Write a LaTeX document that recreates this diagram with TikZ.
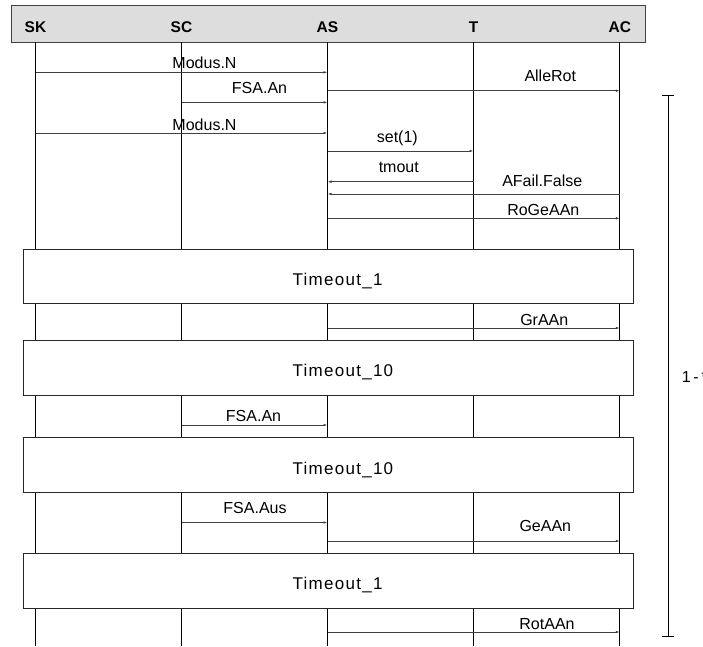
\documentclass[tikz,border=0pt]{standalone}
\usepackage{fontspec}
\setmainfont{Liberation Sans}
\newfontfamily\boxfont[LetterSpace=7.5]{Liberation Sans}
\usetikzlibrary{arrows.meta}
\definecolor{hdrfill}{HTML}{DDDDDD}
\definecolor{hdrline}{HTML}{404040}
\definecolor{msgline}{HTML}{404040}
\begin{document}
\begin{tikzpicture}[x=1pt,y=-1pt,
  life/.style={line width=0.8pt, draw=black},
  msg/.style={line width=0.8pt, draw=msgline, -{Latex[length=4pt,width=2.6pt]}},
  lbl/.style={font=\fontsize{16}{19}\selectfont, anchor=base, inner sep=0pt},
  hdr/.style={font=\bfseries\fontsize{15.5}{18}\selectfont, anchor=base, inner sep=0pt},
  hdrbox/.style={draw=hdrline, fill=hdrfill, line width=0.9pt, anchor=north west,
    minimum width=633.7pt, minimum height=36.7pt, inner sep=0pt},
  tbox/.style={draw=black!85, fill=white, line width=0.9pt, anchor=north west,
    minimum width=609.4pt, minimum height=54.4pt, inner sep=0pt},
  tlbl/.style={font=\boxfont\fontsize{17}{20}\selectfont, anchor=base west, inner sep=0pt},
  brace/.style={line width=0.8pt, draw=black}]
\useasboundingbox (0,0) rectangle (703,646);

% header and participants
\node[hdrbox] (head) at (11,5) {};
\node[hdr] (SK) at (35.5,32) {SK};
\node[hdr] (SC) at (181.5,32) {SC};
\node[hdr] (AS) at (327.5,32) {AS};
\node[hdr] (T)  at (473.5,32) {T};
\node[hdr] (AC) at (619.8,32) {AC};

% lifelines
\coordinate (ltop) at (0,41.7);
\coordinate (lbot) at (0,646);
\foreach \p in {SK,SC,AS,T,AC}{
  \draw[life] (\p|-ltop) -- (\p|-lbot);
}

% messages
\coordinate (y1) at (0,72.3);
\coordinate (y2) at (0,90.7);
\coordinate (y3) at (0,102.3);
\coordinate (y4) at (0,133);
\coordinate (y5) at (0,151);
\coordinate (y6) at (0,181.7);
\coordinate (y7) at (0,194);
\coordinate (y8) at (0,218.3);
\coordinate (y9) at (0,328);
\coordinate (y10) at (0,425);
\coordinate (y11) at (0,522.5);
\coordinate (y12) at (0,541);
\coordinate (y13) at (0,632);

\draw[msg] (SK|-y1) -- (AS|-y1);
\draw[msg] (AS|-y2) -- (AC|-y2);
\draw[msg] (SC|-y3) -- (AS|-y3);
\draw[msg] (SK|-y4) -- (AS|-y4);
\draw[msg] (AS|-y5) -- (T|-y5);
\draw[msg] (T|-y6) -- (AS|-y6);
\draw[msg] (AC|-y7) -- (AS|-y7);
\draw[msg] (AS|-y8) -- (AC|-y8);
\draw[msg] (AS|-y9) -- (AC|-y9);
\draw[msg] (SC|-y10) -- (AS|-y10);
\draw[msg] (SC|-y11) -- (AS|-y11);
\draw[msg] (AS|-y12) -- (AC|-y12);
\draw[msg] (AS|-y13) -- (AC|-y13);

\node[lbl] (l1) at (204.5,68.5) {Modus.N};
\node[lbl] (l2) at (550.3,81.8) {AlleRot};
\node[lbl] (l3) at (259.5,93.5) {FSA.An};
\node[lbl] (l4) at (204.5,130.5) {Modus.N};
\node[lbl] (l5) at (397.3,142.5) {set(1)};
\node[lbl] (l6) at (398.8,172.7) {tmout};
\node[lbl] (l7) at (542.3,186.7) {AFail.False};
\node[lbl] (l8) at (543.3,215.7) {RoGeAAn};
\node[lbl] (l9) at (544.3,325) {GrAAn};
\node[lbl] (l10) at (253.5,421.5) {FSA.An};
\node[lbl] (l11) at (255,513.3) {FSA.Aus};
\node[lbl] (l12) at (545.3,531.7) {GeAAn};
\node[lbl] (l13) at (547,629.3) {RotAAn};

% timeout boxes
\node[tbox] (b1) at (23.3,248.7) {};
\node[tbox] (b2) at (23.3,340.3) {};
\node[tbox] (b3) at (23.3,437.3) {};
\node[tbox] (b4) at (23.3,553.3) {};
\node[tlbl] (t1) at (292.4,285) {Timeout\_1};
\node[tlbl] (t2) at (292.4,376) {Timeout\_10};
\node[tlbl] (t3) at (292.4,474) {Timeout\_10};
\node[tlbl] (t4) at (292.4,589) {Timeout\_1};

% loop bracket
\coordinate (brtop) at (668.3,95.7);
\coordinate (brbot) at (668.3,636.7);
\draw[brace] (brtop) -- (brbot);
\draw[brace] ([xshift=-6pt]brtop) -- ([xshift=6pt]brtop);
\draw[brace] ([xshift=-6pt]brbot) -- ([xshift=6pt]brbot);
\node[tlbl] (rep) at (681.7,382.5) {\fontsize{16}{19}\selectfont 1\,-\,*};
\end{tikzpicture}
\end{document}
